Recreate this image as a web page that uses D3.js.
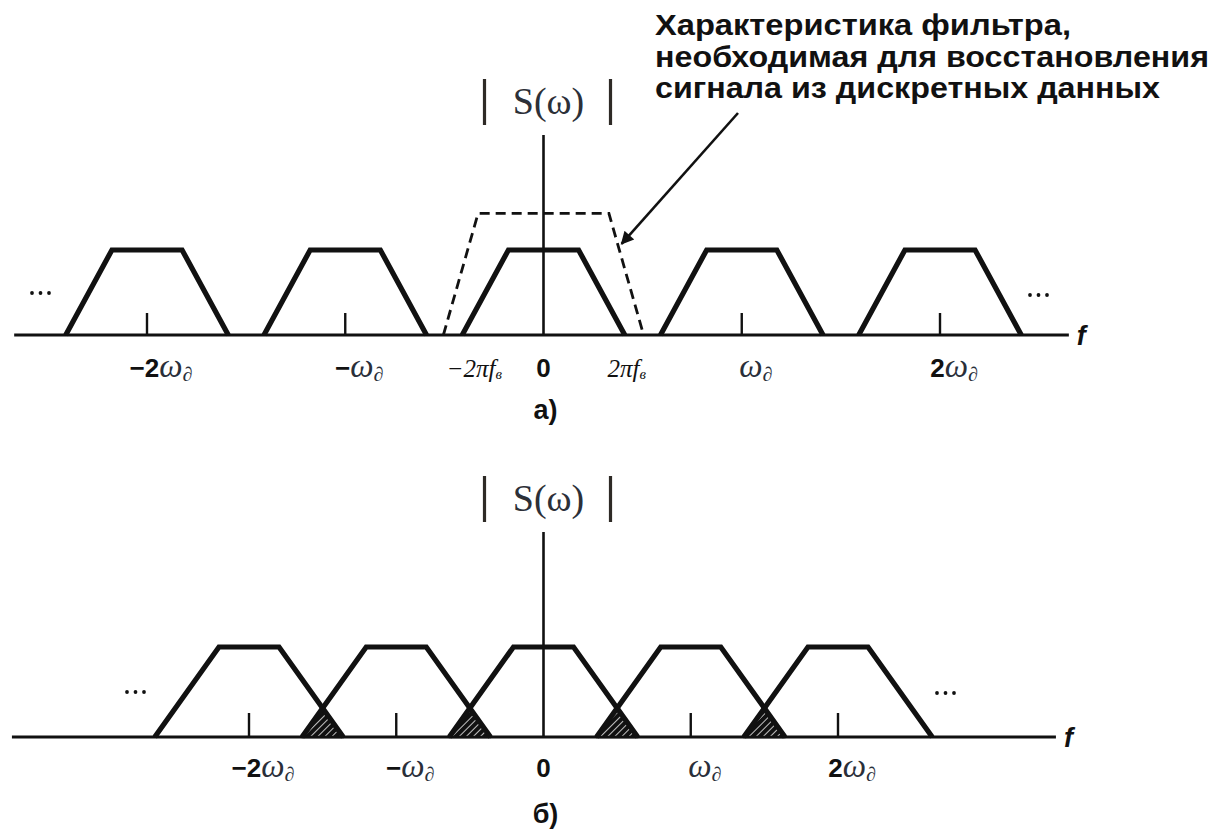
<!DOCTYPE html>
<html><head><meta charset="utf-8">
<script src="https://cdn.jsdelivr.net/npm/d3@7"></script>
<style>
html,body{margin:0;padding:0;background:#fff;}
svg{display:block;}
</style></head>
<body>
<svg id="chart" width="1215" height="832"></svg>
<script>
// ---------- data ----------
// spectrum replica centres, in units of the sampling frequency ω∂
const centersA = [-2, -1, 0, 1, 2];
const centersB = [-2, -1, 0, 1, 2];
// one spectrum replica shape: [offset from centre, relative amplitude]
const spectrumA = [[-0.41, 0], [-0.177, 1], [0.177, 1], [0.41, 0]];
const spectrumB = [[-0.64, 0], [-0.204, 1], [0.204, 1], [0.64, 0]];
// reconstruction filter characteristic (panel a)
const filterA = [[-0.505, 0], [-0.33, 1.43], [0.33, 1.43], [0.505, 0]];
// axis extents (in ω∂ units)
const axisExtentA = [-2.67, 2.65];
const axisExtentB = [-3.61, 3.48];
// tick marks
const tickValuesA = [-2, -1, 1, 2];
const tickValuesB = [-2, -1, 1, 2];
// tick labels: value, prefix (sans bold), symbol (serif italic), subscript
const labelValuesA = [-2, -1, -0.41, 0, 0.41, 1, 2];
const labelPrefixA = ["−2", "−", "", "0", "", "", "2"];
const labelSymbolA = ["ω", "ω", "−2πf", "", "2πf", "ω", "ω"];
const labelSubA    = ["∂", "∂", "в", "", "в", "∂", "∂"];
const labelValuesB = [-2, -1, 0, 1, 2];
const labelPrefixB = ["−2", "−", "0", "", "2"];
const labelSymbolB = ["ω", "ω", "", "ω", "ω"];
const labelSubB    = ["∂", "∂", "", "∂", "∂"];
const annotationLines = ["Характеристика фильтра,", "необходимая для восстановления", "сигнала из дискретных данных"];
const yLabel = "S(ω)";
const axisLetter = "f";
const panelNames = ["а)", "б)"];

// ---------- drawing ----------
const svg = d3.select("#chart");
const INK = "#111";

const defs = svg.append("defs");
const pat = defs.append("pattern").attr("id", "hatch").attr("patternUnits", "userSpaceOnUse")
  .attr("width", 5).attr("height", 5).attr("patternTransform", "rotate(45)");
pat.append("rect").attr("width", 5).attr("height", 5).attr("fill", INK);
pat.append("line").attr("x1", 0).attr("y1", 0).attr("x2", 0).attr("y2", 5)
  .attr("stroke", "#fff").attr("stroke-width", 1.5);
defs.append("marker").attr("id", "arrow").attr("viewBox", "0 0 10 10")
  .attr("refX", 9).attr("refY", 5).attr("markerWidth", 7).attr("markerHeight", 5)
  .attr("markerUnits", "strokeWidth").attr("orient", "auto")
  .append("path").attr("d", "M0,0 L10,5 L0,10 Z").attr("fill", INK);

function drawPanel(cfg) {
  const g = svg.append("g");
  const x = cfg.x, y = cfg.y;
  const line = d3.line().x(d => x(d[0])).y(d => y(d[1]));

  // horizontal axis
  g.append("line").attr("x1", x(cfg.extent[0])).attr("x2", x(cfg.extent[1]))
    .attr("y1", y(0)).attr("y2", y(0)).attr("stroke", INK).attr("stroke-width", 3.2);
  g.append("text").attr("x", x(cfg.extent[1]) + 8).attr("y", y(0) + 10)
    .attr("font-family", "Liberation Sans, Arial, sans-serif").attr("font-style", "italic")
    .attr("font-weight", "bold").attr("font-size", 27).attr("fill", INK).text(axisLetter);

  // vertical axis
  g.append("line").attr("x1", x(0)).attr("x2", x(0)).attr("y1", cfg.vTop).attr("y2", y(0))
    .attr("stroke", INK).attr("stroke-width", 2.6);

  // |S(ω)| label
  const lab = g.append("g");
  lab.append("text").attr("x", x(0) + 5).attr("y", cfg.vTop - 21).attr("text-anchor", "middle")
    .attr("font-family", "Liberation Serif, Times New Roman, serif").attr("font-size", 38)
    .attr("fill", "#2c3038").text(yLabel);
  [-59, 67].forEach(dx => {
    lab.append("line").attr("x1", x(0) + dx).attr("x2", x(0) + dx)
      .attr("y1", cfg.vTop - 56).attr("y2", cfg.vTop - 10)
      .attr("stroke", "#2e2a26").attr("stroke-width", 3.2);
  });

  // ticks
  g.selectAll(".tick").data(cfg.ticks).join("line")
    .attr("x1", d => x(d)).attr("x2", d => x(d))
    .attr("y1", y(0)).attr("y2", y(0) - cfg.tickLen)
    .attr("stroke", INK).attr("stroke-width", 2.4);

  // overlap (aliasing) regions – hatched triangles
  if (cfg.hatch) {
    const B = cfg.shape[3][0], T = cfg.shape[2][0];
    for (let i = 0; i < cfg.centers.length - 1; i++) {
      const c0 = cfg.centers[i], c1 = cfg.centers[i + 1];
      const mid = (c0 + c1) / 2;
      const hMid = (c0 + B - mid) / (B - T);
      const tri = [[c1 - B, 0], [mid, hMid], [c0 + B, 0]];
      g.append("path").attr("d", line(tri) + "Z").attr("fill", "url(#hatch)")
        .attr("stroke", INK).attr("stroke-width", 2.5).attr("stroke-linejoin", "round");
    }
  }

  // spectrum replicas
  g.selectAll(".rep").data(cfg.centers).join("path")
    .attr("d", c => line(cfg.shape.map(p => [c + p[0], p[1]])))
    .attr("fill", "none").attr("stroke", INK).attr("stroke-width", 5.2)
    .attr("stroke-linejoin", "miter");

  // tick labels
  const lg = g.append("g");
  cfg.labels.values.forEach((v, i) => {
    const pre = cfg.labels.prefix[i], sym = cfg.labels.symbol[i], sub = cfg.labels.sub[i];
    const t = lg.append("text").attr("y", y(0) + cfg.labelDy).attr("fill", INK);
    const isPi = sym.indexOf("π") >= 0;
    if (v === 0) {
      t.attr("x", x(v)).attr("text-anchor", "middle");
    } else if (isPi) {
      t.attr("x", x(v) + (v < 0 ? 12 : 2)).attr("text-anchor", "middle");
    } else {
      t.attr("x", x(v) + 14).attr("text-anchor", "middle");
    }
    if (pre) t.append("tspan").attr("font-family", "Liberation Sans, Arial, sans-serif")
      .attr("font-weight", "bold").attr("font-size", 26).text(pre);
    if (sym) {
      t.append("tspan").attr("font-family", "Liberation Serif, Times New Roman, serif")
        .attr("font-style", "italic").attr("font-size", isPi ? 25 : 33)
        .attr("fill", isPi ? INK : "#2a2f3a").text(sym);
      t.append("tspan").attr("font-family", "Liberation Serif, Times New Roman, serif")
        .attr("font-style", "italic").attr("font-size", isPi ? 15 : 20)
        .attr("dy", isPi ? 2 : 4).attr("fill", isPi ? INK : "#2a2f3a").text(sub);
    }
  });

  // ellipsis dots
  cfg.dots.forEach(d => {
    for (let k = 0; k < 3; k++) {
      g.append("circle").attr("cx", d[0] + k * 8.5).attr("cy", d[1]).attr("r", 1.9).attr("fill", INK);
    }
  });

  // panel caption
  g.append("text").attr("x", x(0) + 2).attr("y", cfg.captionY).attr("text-anchor", "middle")
    .attr("font-family", "Liberation Sans, Arial, sans-serif").attr("font-size", 27)
    .attr("font-weight", "bold").attr("fill", INK).text(cfg.caption);
  return g;
}

// Panel a
const xA = d3.scaleLinear().domain([-2, 2]).range([147, 940]);
const yA = d3.scaleLinear().domain([0, 1]).range([335, 250]);
const gA = drawPanel({
  x: xA, y: yA, extent: axisExtentA, vTop: 135, ticks: tickValuesA, tickLen: 22,
  centers: centersA, shape: spectrumA, hatch: false,
  labels: {values: labelValuesA, prefix: labelPrefixA, symbol: labelSymbolA, sub: labelSubA},
  labelDy: 42, dots: [[32, 293], [1030, 295]], caption: panelNames[0], captionY: 419
});
// filter (dashed)
const lineA = d3.line().x(d => xA(d[0])).y(d => yA(d[1]));
gA.append("path").attr("d", lineA(filterA)).attr("fill", "none").attr("stroke", INK)
  .attr("stroke-width", 2.8).attr("stroke-dasharray", "10,6");
// annotation arrow (tip on the right slope of the filter)
const fr0 = filterA[2], fr1 = filterA[3];
const tFrac = 0.75;
const tipX = xA(fr0[0] + (fr1[0] - fr0[0]) * (1 - tFrac)) + 4;
const tipY = yA(fr1[1] + (fr0[1] - fr1[1]) * tFrac);
gA.append("line").attr("x1", 738).attr("y1", 113).attr("x2", tipX).attr("y2", tipY)
  .attr("stroke", INK).attr("stroke-width", 2.6).attr("marker-end", "url(#arrow)");
// annotation text
const annW = [416, 554, 505];
annotationLines.forEach((s, i) => {
  svg.append("text").attr("x", 655).attr("y", 35 + i * 31.5)
    .attr("font-family", "Liberation Sans, Arial, sans-serif").attr("font-weight", "bold")
    .attr("font-size", 29).attr("fill", INK)
    .attr("textLength", annW[i]).attr("lengthAdjust", "spacingAndGlyphs").text(s);
});

// Panel b
const xB = d3.scaleLinear().domain([-2, 2]).range([249, 838]);
const yB = d3.scaleLinear().domain([0, 1]).range([737, 647]);
drawPanel({
  x: xB, y: yB, extent: axisExtentB, vTop: 532, ticks: tickValuesB, tickLen: 24,
  centers: centersB, shape: spectrumB, hatch: true,
  labels: {values: labelValuesB, prefix: labelPrefixB, symbol: labelSymbolB, sub: labelSubB},
  labelDy: 40, dots: [[127, 692], [937, 693]], caption: panelNames[1], captionY: 823
});
</script>
</body></html>
